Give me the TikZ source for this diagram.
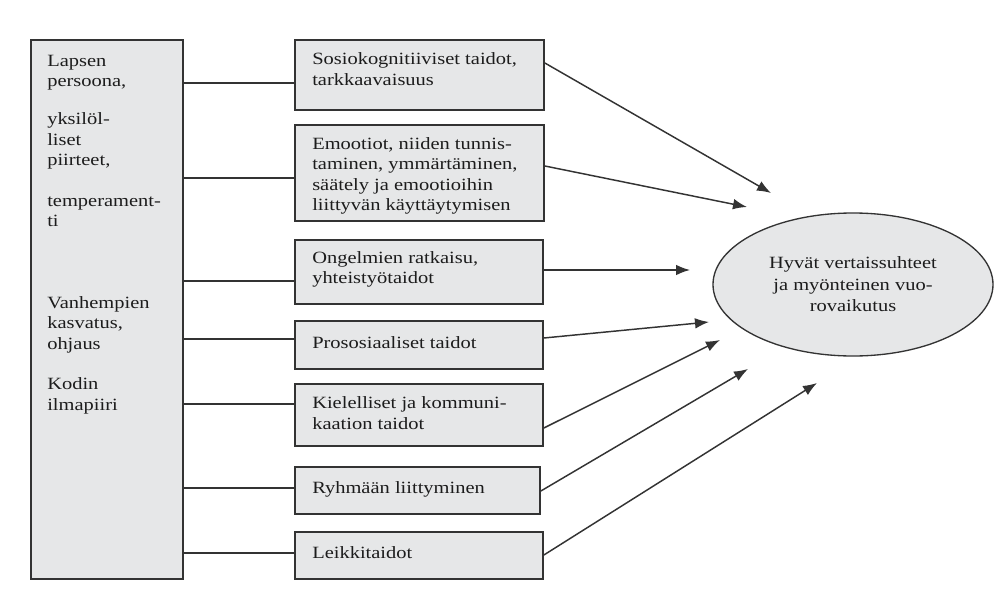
\documentclass[tikz,border=0pt]{standalone}
\usepackage{fontspec}
\setmainfont{Liberation Serif}[FakeStretch=1.19]
\usetikzlibrary{arrows.meta,calc,shapes.geometric}
\definecolor{boxfill}{HTML}{E6E7E8}
\definecolor{boxline}{HTML}{333333}
\definecolor{txt}{HTML}{1C1C1C}
\begin{document}
\begin{tikzpicture}[x=0.75pt,y=-0.75pt,
  mbox/.style 2 args={draw=boxline, fill=boxfill, line width=1.4pt, rectangle, inner sep=0pt,
    anchor=north west, minimum width=#1*0.75pt, minimum height=#2*0.75pt},
  lbl/.style={anchor=west, align=left, inner sep=0pt, text=txt,
    font=\fontsize{12.9pt}{15.3pt}\selectfont},
  conn/.style={draw=boxline, line width=1.1pt},
  arr/.style={conn, -{Latex[length=10.5pt,width=8pt]}}]
\useasboundingbox (0,0) rectangle (1000,592);

% left box
\node[mbox={152}{539}] (L) at (30,39) {};
\node[lbl, anchor=north west] (tL) at (47,55)
  {Lapsen\\persoona,\\[13pt]yksilöl-\\liset\\piirteet,\\\mbox{}\\temperament-\\ti\\\mbox{}\\\mbox{}\\\mbox{}\\Vanhempien\\kasvatus,\\ohjaus\\\mbox{}\\Kodin\\ilmapiiri};

% middle boxes
\node[mbox={249}{70}] (m1) at (294,39) {};
\node[mbox={249}{96}] (m2) at (294,124) {};
\node[mbox={248}{64}] (m3) at (294,239) {};
\node[mbox={248}{48}] (m4) at (294,320) {};
\node[mbox={248}{62}] (m5) at (294,383) {};
\node[mbox={245}{47}] (m6) at (294,466) {};
\node[mbox={248}{47}] (m7) at (294,531) {};

\node[lbl] (t1) at ($(m1.west)+(18,-6)$) {Sosiokognitiiviset taidot,\\tarkkaavaisuus};
\node[lbl] (t2) at ($(m2.west)+(18,3)$) {Emootiot, niiden tunnis-\\taminen, ymmärtäminen,\\säätely ja emootioihin\\liittyvän käyttäytymisen};
\node[lbl] (t3) at ($(m3.west)+(18,-2.5)$) {Ongelmien ratkaisu,\\yhteistyötaidot};
\node[lbl] (t4) at ($(m4.west)+(18,-2)$) {Prososiaaliset taidot};
\node[lbl] (t5) at ($(m5.west)+(18,-2)$) {Kielelliset ja kommuni-\\kaation taidot};
\node[lbl] (t6) at ($(m6.west)+(18,-1.5)$) {Ryhmään liittyminen};
\node[lbl] (t7) at ($(m7.west)+(18,-2.5)$) {Leikkitaidot};

% ellipse
\node[ellipse, draw=boxline, fill=boxfill, line width=1pt, minimum width=210pt,
  minimum height=107.25pt, inner sep=0pt, align=center, text=txt,
  font=\fontsize{12.9pt}{16.1pt}\selectfont] (E) at (853,284.5)
  {Hyvät vertaissuhteet\\ja myönteinen vuo-\\rovaikutus};

% left connectors
\coordinate (a1) at ($(m1.north west)+(0,44)$);
\coordinate (a2) at ($(m2.north west)+(0,54)$);
\coordinate (a3) at ($(m3.north west)+(0,42)$);
\coordinate (a4) at ($(m4.north west)+(0,19)$);
\coordinate (a5) at ($(m5.north west)+(0,21)$);
\coordinate (a6) at ($(m6.north west)+(0,22)$);
\coordinate (a7) at ($(m7.north west)+(0,22)$);
\foreach \i in {1,...,7} {\draw[conn] (L.east |- a\i) -- (a\i);}

% arrow tips
\coordinate (e1) at (771,193);
\coordinate (e2) at (747,207);
\coordinate (e3) at (690,270);
\coordinate (e4) at (709,322);
\coordinate (e5) at (720,340);
\coordinate (e6) at (748,369);
\coordinate (e7) at (817,383);

\draw[arr] ($(m1.north east)+(0,24)$) -- (e1);
\draw[arr] ($(m2.north east)+(0,42)$) -- (e2);
\draw[arr] ($(m3.north east)+(0,31)$) -- (e3);
\draw[arr] ($(m4.north east)+(0,18)$) -- (e4);
\draw[arr] ($(m5.north east)+(0,45)$) -- (e5);
\draw[arr] ($(m6.north east)+(0,25)$) -- (e6);
\draw[arr] ($(m7.north east)+(0,24)$) -- (e7);
\end{tikzpicture}
\end{document}
